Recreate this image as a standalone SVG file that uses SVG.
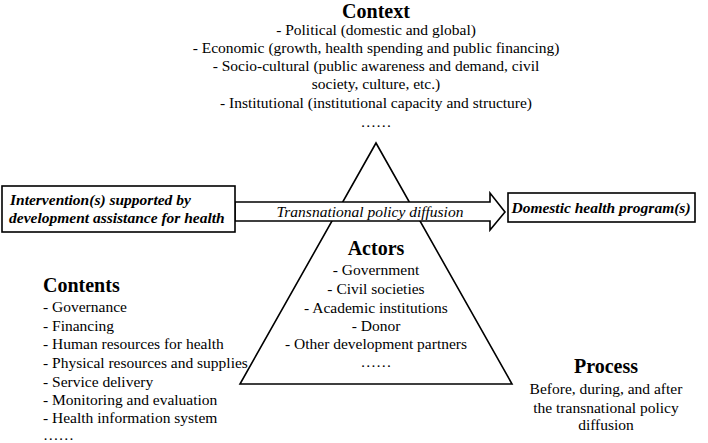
<svg xmlns="http://www.w3.org/2000/svg" width="708" height="443" viewBox="0 0 708 443" font-family="'Liberation Serif', 'Times New Roman', 'DejaVu Serif', serif">
<style>
text{font-family:'Liberation Serif','Times New Roman','DejaVu Serif',serif;font-size:15.5px;fill:#000}
.t{font-weight:bold;font-size:20px}
.c{text-anchor:middle}
.bi{font-weight:bold;font-style:italic}
.it{font-style:italic}
.s{fill:#fff;stroke:#000;stroke-width:1.6}
</style>
<rect width="708" height="443" fill="#fff"/>
<g id="context">
<text class="t c" x="376" y="18">Context</text>
<text class="c" x="376" y="35">- Political (domestic and global)</text>
<text class="c" x="376" y="53">- Economic (growth, health spending and public financing)</text>
<text class="c" x="376" y="71">- Socio-cultural (public awareness and demand, civil</text>
<text class="c" x="376" y="89">society, culture, etc.)</text>
<text class="c" x="376" y="108">- Institutional (institutional capacity and structure)</text>
<text class="c" x="376" y="127">……</text>
</g>
<g id="triangle">
<polygon class="s" points="376,143 512,384 240,384"/>
</g>
<g id="connectors">
<polygon class="s" points="235,202 490,202 490,193 505,212 490,230 490,221 235,221"/>
<text class="it c" x="370" y="217">Transnational policy diffusion</text>
</g>
<g id="intervention">
<rect class="s" x="2" y="186" width="233" height="46"/>
<text class="bi" x="10" y="205">Intervention(s) supported by</text>
<text class="bi" x="9" y="223">development assistance for health</text>
</g>
<g id="domestic">
<rect class="s" x="508" y="193" width="187" height="29"/>
<text class="bi c" x="601" y="213">Domestic health program(s)</text>
</g>
<g id="actors">
<text class="t c" x="376" y="255">Actors</text>
<text class="c" x="376" y="275">- Government</text>
<text class="c" x="376" y="294">- Civil societies</text>
<text class="c" x="376" y="313">- Academic institutions</text>
<text class="c" x="376" y="331">- Donor</text>
<text class="c" x="376" y="349">- Other development partners</text>
<text class="c" x="376" y="367">……</text>
</g>
<g id="contents">
<text class="t" x="43" y="292">Contents</text>
<text x="43" y="312">- Governance</text>
<text x="43" y="331">- Financing</text>
<text x="43" y="349">- Human resources for health</text>
<text x="43" y="368">- Physical resources and supplies</text>
<text x="43" y="387">- Service delivery</text>
<text x="43" y="405">- Monitoring and evaluation</text>
<text x="43" y="423">- Health information system</text>
<text x="43" y="440">……</text>
</g>
<g id="process">
<text class="t c" x="606" y="373">Process</text>
<text class="c" x="606" y="394">Before, during, and after</text>
<text class="c" x="606" y="413">the transnational policy</text>
<text class="c" x="606" y="430">diffusion</text>
</g>
</svg>
